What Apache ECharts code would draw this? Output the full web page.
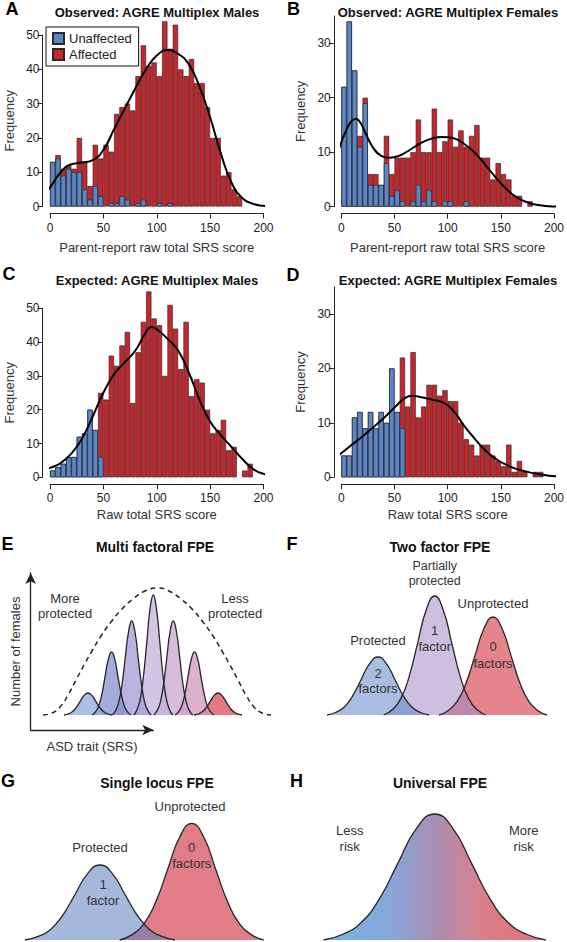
<!DOCTYPE html>
<html><head><meta charset="utf-8">
<script src="https://cdn.jsdelivr.net/npm/echarts@6/dist/echarts.min.js"></script>
<style>html,body{margin:0;padding:0;background:#fff}#c{width:567px;height:942px}</style>
</head><body><div id="c"></div>
<script>
// ---------- DATA ----------
const binStarts = [0,5,10,15,20,25,30,35,40,45,50,55,60,65,70,75,80,85,90,95,100,105,110,115,120,125,130,135,140,145,150,155,160,165,170,175,180,185];
const xTicks = [0,50,100,150,200];

const unaffA = [13,14,9,11,10,10,5,2,6,3,0,1,1,3,2,0,1,2,0,0,1,0,1,0,0,0,0,0,0,0,0,0,0,0,0,0];
const affA   = [0,1,2,1,1,10,8,4,12,11,18,15,26,26,28,28,37,45,41,42,37,54,45,53,40,38,43,36,36,29,20,20,9,10,5,3];
const densA  = [[-8,2.8],[0,5.5],[10,10],[20,12.3],[30,12.8],[40,13.5],[50,16.5],[60,22.5],[70,28.5],[80,34.5],[90,40],[100,44],[110,45.6],[120,44.5],[130,41.5],[140,35],[150,26],[160,15.5],[170,7],[180,2.5],[190,0.8],[200,0.2],[208,0]];

const unaffB = [22,34,25,11,19,4,4,4,8,2,3,1,0,1,4,1,3,1,0,1,1,0,0,1,0,0,0,0,0,0,0,0,0,0,0,0];
const affB   = [0,0,0,2,1,2,2,0,5,4,6,8,9,9,12,9,7,17,10,11,15,11,14,10,13,15,9,9,5,8,6,5,2,2,0,1];
const densB  = [[-8,7],[-4,9.5],[0,11.8],[5,14.2],[10,15.8],[14,16.1],[18,15.4],[22,13.8],[30,10.8],[38,9.3],[45,9.0],[55,9.4],[65,10.5],[75,11.7],[85,12.5],[95,12.8],[105,12.6],[115,11.6],[125,10],[135,7.8],[145,5.4],[155,3.3],[165,1.7],[175,0.8],[185,0.3],[195,0.1],[209,0]];

const unaffC = [2,3,4,6,6,12,13,20,14,6,0,0,0,0,0,0,0,0,0,0,0,0,0,0,0,0,0,0,0,0,0,0,0,0,0,0,0,0];
const affC   = [0,0,0,0,0,0,0,0,0,19,23,36,33,39,43,22,37,46,55,47,45,30,51,44,32,46,24,29,28,20,13,14,17,8,9,0,2,4];
const densC  = [[-8,2],[0,2.8],[10,4.2],[20,7],[30,11.5],[40,18],[50,25],[60,30.5],[70,34],[80,37.5],[90,43],[95,44.5],[100,43.8],[110,41],[120,37.5],[130,31],[140,23],[150,16.5],[160,12.5],[170,9],[180,5.5],[190,2.5],[200,1],[210,0.4]];

const unaffD = [4,4,11,12,9,12,9,12,10,20,12,9,0,0,0,0,0,0,0,0,0,0,0,0,0,0,0,0,0,0,0,0,0,0,0,0,0,0];
const affD   = [0,0,0,0,0,0,0,0,0,0,0,13,13,23,11,13,17,17,15,16,14,14,10,7,6,4,6,6,4,3,2,6,1,3,1,0,1,1];
const densD  = [[-8,3],[0,4.4],[10,6],[20,7.5],[30,9.2],[40,10.9],[50,12.8],[60,14.6],[67,15],[75,14.7],[85,14.3],[95,13.8],[105,12.3],[115,9.6],[125,7.2],[135,5],[145,3.4],[155,2.3],[165,1.5],[175,1],[185,0.6],[195,0.3],[209,0.1]];

// schematic curves (x: position along trait, y: number of females)
const multiE1 = [[64,0],[68,1],[72,3],[76,7.1],[80,13.3],[84,19.4],[88,22],[92,19.4],[96,13.3],[100,7.1],[104,3],[108,1],[112,0]];
const multiE2 = [[92,0],[95.3,2.8],[98.5,8.5],[101.8,20.5],[105,38.2],[108.3,55.6],[111.5,63],[114.8,55.6],[118,38.2],[121.3,20.5],[124.5,8.5],[127.8,2.8],[131,0]];
const multiE3 = [[112.2,0],[115.5,4.1],[118.7,12.7],[122,30.5],[125.2,57],[128.5,83],[131.7,94],[135,83],[138.2,57],[141.5,30.5],[144.7,12.7],[148,4.1],[151.2,0]];
const multiE4 = [[133.8,0],[137,5.3],[140.3,16.2],[143.5,39],[146.8,72.8],[150,105.9],[153.3,120],[156.5,105.9],[159.8,72.8],[163,39],[166.3,16.2],[169.5,5.3],[172.8,0]];
const multiE5 = [[153.8,0],[157,4.1],[160.3,12.7],[163.5,30.5],[166.8,57],[170,83],[173.3,94],[176.5,83],[179.8,57],[183,30.5],[186.3,12.7],[189.5,4.1],[192.8,0]];
const multiE6 = [[175,0],[178.3,2.8],[181.5,8.5],[184.8,20.5],[188,38.2],[191.3,55.6],[194.5,63],[197.8,55.6],[201,38.2],[204.3,20.5],[207.5,8.5],[210.8,2.8],[214,0]];
const multiE7 = [[194,0],[198,1],[202,3],[206,7.1],[210,13.3],[214,19.4],[218,22],[222,19.4],[226,13.3],[230,7.1],[234,3],[238,1],[242,0]];
const multiEnvelope = [[43,0],[52,2],[60,8],[68,20],[76,35],[84,50],[92,64],[101,79],[111,93],[122,106],[133,116],[145,124],[157,127],[169,124],[181,116],[192,106],[203,93],[213,79],[222,64],[230,50],[238,35],[246,20],[254,8],[262,2],[271,0]];

const twoF2 = [[44,0],[52.5,2.5],[61,7.8],[69.5,18.8],[78,35.2],[86.5,51.2],[95,58],[103.5,51.2],[112,35.2],[120.5,18.8],[129,7.8],[137.5,2.5],[146,0]];
const twoF1 = [[100.7,0],[109.2,5.2],[117.7,16.1],[126.2,38.6],[134.7,72.2],[143.2,105],[151.7,119],[160.2,105],[168.7,72.2],[177.2,38.6],[185.7,16.1],[194.2,5.2],[202.7,0]];
const twoF0 = [[156,0],[165,4.3],[174,13.3],[183,31.8],[192,59.4],[201,86.5],[210,98],[219,86.5],[228,59.4],[237,31.8],[246,13.3],[255,4.3],[264,0]];

const singleG1 = [[25,0],[37.5,3.3],[50,10.1],[62.5,24.4],[75,45.5],[87.5,66.2],[100,75],[112.5,66.2],[125,45.5],[137.5,24.4],[150,10.1],[162.5,3.3],[175,0]];
const singleG0 = [[119.7,0],[131.7,5.1],[143.7,15.8],[155.7,37.9],[167.7,70.8],[179.7,103],[191.7,116.7],[203.7,103],[215.7,70.8],[227.7,37.9],[239.7,15.8],[251.7,5.1],[263.7,0]];

const universalH = [[40.7,0],[59.2,5.5],[77.7,17],[96.2,40.9],[114.7,76.4],[133.2,111.2],[151.7,126],[170.2,111.2],[188.7,76.4],[207.2,40.9],[225.7,17],[244.2,5.5],[262.7,0]];

// ---------- CHART ----------
const FONT = '"Liberation Sans", Arial, Helvetica, sans-serif';
const BLUE = '#5b86c8', RED = '#cb252c', EDGE = '#2a2a2a';
const chart = echarts.init(document.getElementById('c'), null, {renderer:'svg', width:567, height:942});

const hist = [
  {grid:{left:50, top:35, width:213.5, height:171.5}, ymax:50, ticks:[0,10,20,30,40,50], xname:'Parent-report raw total SRS score', unaff:unaffA, aff:affA, dens:densA, xoff:7, ngap:27},
  {grid:{left:341.3, top:16, width:213.4, height:190.7}, ymax:35, ticks:[0,10,20,30], xname:'Parent-report raw total SRS score', unaff:unaffB, aff:affB, dens:densB, xoff:7, ngap:27},
  {grid:{left:50, top:308.3, width:213.5, height:169}, ymax:50, ticks:[0,10,20,30,40,50], xname:'Raw total SRS score', unaff:unaffC, aff:affC, dens:densC, xoff:7, ngap:24},
  {grid:{left:341.3, top:286.8, width:213.4, height:190.5}, ymax:35, ticks:[0,10,20,30], xname:'Raw total SRS score', unaff:unaffD, aff:affD, dens:densD, xoff:7, ngap:24}
];

const grids = [], xAxes = [], yAxes = [], series = [];
const axisCol = '#222';
hist.forEach((p, i) => {
  grids.push(p.grid);
  xAxes.push({gridIndex:i, type:'value', min:0, max:200, interval:50, offset:p.xoff,
    axisLine:{show:true, onZero:false, lineStyle:{color:axisCol, width:1}},
    axisTick:{show:true, length:5, lineStyle:{color:axisCol}},
    axisLabel:{fontSize:12, color:axisCol, margin:8, fontFamily:FONT},
    splitLine:{show:false},
    name:p.xname, nameLocation:'middle', nameGap:p.ngap, nameTextStyle:{fontSize:13, color:'#333', fontFamily:FONT}});
  yAxes.push({gridIndex:i, type:'value', min:0, max:p.ymax, interval:10, offset:7.5,
    axisLine:{show:true, onZero:false, lineStyle:{color:axisCol, width:1}},
    axisTick:{show:true, length:5, customValues:p.ticks, lineStyle:{color:axisCol}},
    axisLabel:{fontSize:12, color:axisCol, margin:3, fontFamily:FONT, customValues:p.ticks,
      formatter:v => (p.ticks.indexOf(v) >= 0 ? String(v) : '')},
    splitLine:{show:false},
    name:'Frequency', nameLocation:'middle', nameGap:27, nameTextStyle:{fontSize:13, color:'#333', fontFamily:FONT}});
  const bw = 5 * p.grid.width / 200;
  // stacked look: full-height (unaffected + affected) bar in red, unaffected part drawn over it in blue
  const totals = p.unaff.map((v, k) => v + p.aff[k]);
  const toData = arr => arr.map((v, k) => [binStarts[k] + 2.5, v === 0 ? null : v]);
  series.push({type:'bar', name:'Affected', xAxisIndex:i, yAxisIndex:i, barWidth:bw, barGap:'-100%', clip:false,
    itemStyle:{color:RED, borderColor:EDGE, borderWidth:0.7}, data:toData(totals), z:2});
  series.push({type:'bar', name:'Unaffected', xAxisIndex:i, yAxisIndex:i, barWidth:bw, barGap:'-100%', clip:false,
    itemStyle:{color:BLUE, borderColor:EDGE, borderWidth:0.7}, data:toData(p.unaff), z:2});
  series.push({type:'line', xAxisIndex:i, yAxisIndex:i, data:p.dens, smooth:true, symbol:'none', clip:false,
    lineStyle:{color:'#000', width:2}, z:5});
});

// schematic grids: 4 E curves, 5 E arrows, 6 F, 7 G, 8 H
const hiddenX = (g, mn, mx) => ({gridIndex:g, type:'value', min:mn, max:mx, show:false});
const hiddenY = (g, mn, mx) => ({gridIndex:g, type:'value', min:mn, max:mx, show:false});
grids.push({left:0, top:575, width:283, height:140});      // 4
xAxes.push(hiddenX(4, 0, 283)); yAxes.push(hiddenY(4, 0, 140));
grids.push({left:30.7, top:573, width:122.6, height:157}); // 5 arrows
xAxes.push({gridIndex:5, type:'value', min:0, max:1,
  axisLine:{show:true, onZero:false, symbol:['none','arrow'], symbolSize:[8,11], lineStyle:{color:'#222', width:1.3}},
  axisTick:{show:false}, axisLabel:{show:false}, splitLine:{show:false},
  name:'ASD trait (SRS)', nameLocation:'middle', nameGap:10, nameTextStyle:{fontSize:13, color:'#333', fontFamily:FONT}});
yAxes.push({gridIndex:5, type:'value', min:0, max:1,
  axisLine:{show:true, onZero:false, symbol:['none','arrow'], symbolSize:[8,11], lineStyle:{color:'#222', width:1.3}},
  axisTick:{show:false}, axisLabel:{show:false}, splitLine:{show:false},
  name:'Number of females', nameLocation:'middle', nameGap:9, nameTextStyle:{fontSize:13, color:'#333', fontFamily:FONT}});
grids.push({left:283, top:585, width:284, height:130});    // 6
xAxes.push(hiddenX(6, 0, 284)); yAxes.push(hiddenY(6, 0, 130));
grids.push({left:0, top:810, width:283, height:130});      // 7
xAxes.push(hiddenX(7, 0, 283)); yAxes.push(hiddenY(7, 0, 130));
grids.push({left:283, top:810, width:284, height:130});    // 8
xAxes.push(hiddenX(8, 0, 284)); yAxes.push(hiddenY(8, 0, 130));
series.push({type:'line', xAxisIndex:5, yAxisIndex:5, data:[], symbol:'none'});

function bell(data, gi, fill, z, op){
  return {type:'line', xAxisIndex:gi, yAxisIndex:gi, data, smooth:true, symbol:'none', clip:false, silent:true,
    lineStyle:{color:'#262626', width:1.3}, areaStyle:{color:fill, opacity:op === undefined ? 0.55 : op}, z:z};
}
// E (right to left so left ones on top)
series.push(bell(multiE7, 4, '#de4b58', 3, 0.75));
series.push(bell(multiE6, 4, '#d396bc', 3, 0.75));
series.push(bell(multiE5, 4, '#caa6d0', 3, 0.75));
series.push(bell(multiE4, 4, '#c3b3de', 3, 0.75));
series.push(bell(multiE3, 4, '#a29bd6', 3, 0.75));
series.push(bell(multiE2, 4, '#8790d0', 3, 0.75));
series.push(bell(multiE1, 4, '#8eabde', 3, 0.75));
series.push({type:'line', xAxisIndex:4, yAxisIndex:4, data:multiEnvelope, smooth:true, symbol:'none', clip:false, silent:true,
  lineStyle:{color:'#222', width:1.5, type:[5,4]}, z:6});
// F
series.push(bell(twoF0, 6, '#d01f2e', 3));
series.push(bell(twoF1, 6, '#a38bc7', 3));
series.push(bell(twoF2, 6, '#5f87ca', 3));
// G
series.push(bell(singleG0, 7, '#c81325', 3));
series.push(bell(singleG1, 7, '#5b80bf', 3));
// H
series.push(bell(universalH, 8, new echarts.graphic.LinearGradient(0, 0, 1, 0, [
  {offset:0, color:'#78b1e4'}, {offset:0.3, color:'#86a7d8'}, {offset:0.5, color:'#a88fb4'},
  {offset:0.7, color:'#d9808c'}, {offset:1, color:'#e86d76'}]), 3, 1));

function txt(text, x, y, size, weight, color){
  return {type:'text', x:x, y:y, z:100, silent:true,
    style:{text:text, fill:color, font:weight + ' ' + size + 'px ' + FONT,
      textAlign:'center', textVerticalAlign:'middle', align:'center', verticalAlign:'middle'}};
}
const L = (t,x,y) => txt(t, x, y, 18, 'bold', '#000');
const TT = (t,x,y,s) => txt(t, x, y, s || 13, 'bold', '#111');
const N = (t,x,y,s) => txt(t, x, y, s || 13, 'normal', '#333');
const graphics = [
  L('A',12,9), L('B',293.5,9), L('C',9,274), L('D',293,275), L('E',7.5,544), L('F',292,544), L('G',8,781), L('H',296.5,781),
  TT('Observed: AGRE Multiplex Males',157,12.5), TT('Observed: AGRE Multiplex Females',448,12.5),
  TT('Expected: AGRE Multiplex Males',157,280), TT('Expected: AGRE Multiplex Females',448,280),
  TT('Multi factoral FPE',155,547,14), TT('Two factor FPE',440,547,14),
  TT('Single locus FPE',157,783,14), TT('Universal FPE',440,783,14),
  N('More',65,598), N('protected',65,613), N('Less',235,598), N('protected',235,613),
  N('Partially',434.7,566,12.5), N('protected',434.7,580.5,12.5), N('Unprotected',493,603), N('Protected',378,640),
  N('1',434.7,630.5), N('factor',434.7,646.5), N('0',493,646), N('factors',493,663), N('2',378,673), N('factors',378,688),
  N('Unprotected',190,806.7), N('Protected',100,847.3), N('1',103,884), N('factor',103,900), N('0',191.7,847.3), N('factors',191.7,863.3),
  N('Less',349.7,830.7), N('risk',349.7,846), N('More',523.7,830.7), N('risk',523.7,846)
];

chart.setOption({
  animation:false,
  backgroundColor:'#fff',
  textStyle:{fontFamily:FONT},
  grid:grids, xAxis:xAxes, yAxis:yAxes, series:series,
  legend:{data:['Unaffected','Affected'], orient:'vertical', left:46, top:27, itemWidth:11, itemHeight:11, itemGap:3,
    padding:[5,7,5,6], borderColor:'#111', borderWidth:1, borderRadius:0, backgroundColor:'#fff', icon:'rect',
    selectedMode:false, textStyle:{fontSize:13, color:'#222', fontFamily:FONT}, z:10},
  graphic:graphics
});
</script></body></html>
